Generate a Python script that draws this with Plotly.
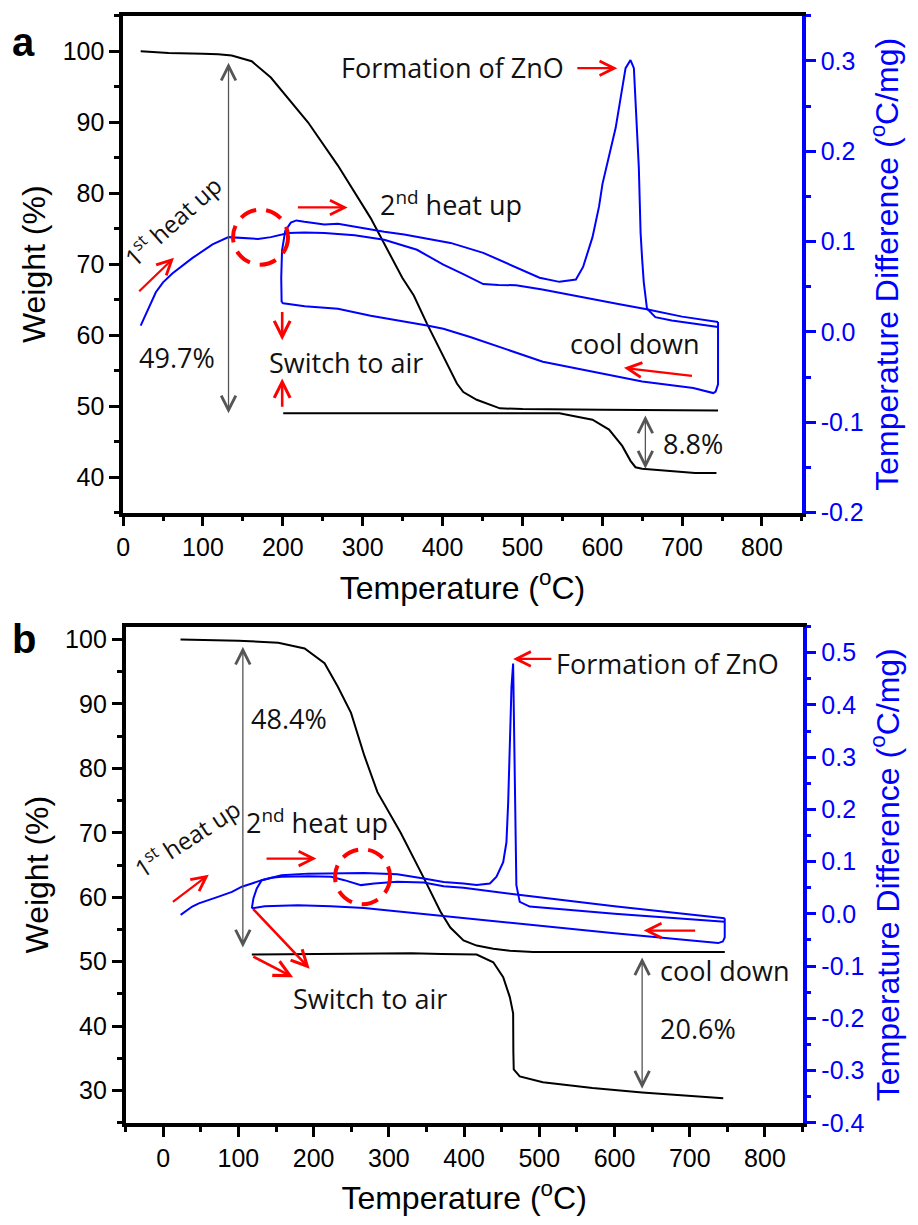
import plotly.graph_objects as go

# ---------------- Panel a : TGA (weight) ----------------
a_tga_n2_T = [22, 57, 100, 119, 136, 161, 185, 207, 231.5, 269, 310, 349.6, 364, 380.6,
              401, 418, 426, 442.8, 471.8, 500, 600, 700, 745]
a_tga_n2_W = [100, 99.75, 99.65, 99.6, 99.4, 98.6, 96.3, 93.3, 90.0, 83.9, 76.5, 68.1, 65.6, 61.6,
              57.0, 53.2, 52.0, 50.9, 49.7, 49.6, 49.5, 49.4, 49.4]

a_tga_air_T = [200.5, 300, 400, 500, 546.4, 567, 587.8, 608.5, 625, 635.4, 641.6, 649.9,
               670.6, 691.3, 716.2, 743]
a_tga_air_W = [49.0, 49.0, 49.0, 49.0, 49.0, 48.55, 48.1, 46.7, 44.4, 42.3, 41.4, 41.2,
               41.0, 40.9, 40.6, 40.6]

# ---------------- Panel a : DTA (temperature difference) ----------------
a_dta_n2_T = [22, 30, 41, 50, 62, 87, 112, 132, 150, 169, 185, 207, 227, 252, 290, 327, 368,
              401, 426, 435, 451, 470, 492, 525, 575, 620, 654, 700, 745]
a_dta_n2_D = [0.007, 0.022, 0.044, 0.055, 0.065, 0.082, 0.097, 0.105, 0.104, 0.103, 0.105,
              0.1095, 0.110, 0.1095, 0.107, 0.102, 0.091, 0.0745, 0.064, 0.060, 0.053, 0.052,
              0.0518, 0.047, 0.039, 0.031, 0.0255, 0.017, 0.011]

a_dta_cool_T = [745, 745, 742, 739, 714, 650, 525.6, 434.6, 401, 380.6, 310, 269, 227.4, 200.5, 198.5]
a_dta_cool_D = [0.011, -0.058, -0.066, -0.0676, -0.062, -0.0548, -0.0329, -0.0055, 0.0036,
                0.0072, 0.018, 0.0256, 0.0285, 0.0318, 0.033]

a_dta_air_T = [198.5, 198, 199, 203, 210, 217, 227, 252, 269, 310, 327, 352, 401, 410, 451,
               492.5, 521.5, 546.4, 558.7, 567, 576, 587.8, 596, 600.3, 616.8, 629.2, 635.4,
               639.6, 645.8, 648, 650, 652, 656, 666.5, 687, 745]
a_dta_air_D = [0.033, 0.060, 0.090, 0.112, 0.121, 0.1235, 0.122, 0.119, 0.1197, 0.113, 0.1109,
               0.108, 0.1003, 0.0986, 0.0876, 0.0712, 0.060, 0.0555, 0.0566, 0.058, 0.072, 0.105,
               0.139, 0.164, 0.226, 0.292, 0.301, 0.292, 0.182, 0.11, 0.08, 0.055, 0.026, 0.0164,
               0.0127, 0.0055]

# ---------------- Panel b : TGA ----------------
b_tga_n2_T = [23, 60, 100, 153, 188, 214.5, 232, 249.7, 267.3, 284.8, 306.9, 315.7, 346.4,
              368.5, 381.7, 399.2, 416.7, 438.8, 460.8, 491.5, 600, 746.6]
b_tga_n2_W = [100, 99.95, 99.8, 99.5, 98.6, 96.3, 92.7, 88.6, 82.0, 76.3, 71.7, 70.0, 63.0,
              57.8, 55.3, 53.3, 52.5, 52.0, 51.7, 51.5, 51.5, 51.5]

b_tga_air_T = [117.8, 200, 280, 330, 370, 416.7, 438.8, 452, 460.8, 465.2, 465.5, 466, 474,
               504.7, 570.7, 636.7, 744.5]
b_tga_air_W = [51.1, 51.2, 51.3, 51.3, 51.2, 51.1, 49.9, 47.6, 44.5, 42.0, 36.0, 33.3, 32.2,
               31.3, 30.4, 29.7, 28.8]

# ---------------- Panel b : DTA ----------------
b_dta_n2_T = [23.2, 38.6, 47.4, 65, 73.7, 91.4, 104.6, 117.8, 131, 144, 157.4, 192.5, 223.3,
              240.9, 262.9, 280.5, 311.2, 346.4, 372.8, 399.2, 469.5, 600, 746.5]
b_dta_n2_D = [-0.002, 0.014, 0.020, 0.0296, 0.033, 0.042, 0.052, 0.058, 0.0645, 0.069, 0.0708,
              0.072, 0.0708, 0.0645, 0.055, 0.058, 0.0613, 0.060, 0.053, 0.050, 0.037, 0.0145,
              -0.0083]

b_dta_cool_T = [746.5, 746.5, 744, 737.8, 600, 460, 399.2, 355, 311, 267, 223, 179, 135, 117.8]
b_dta_cool_D = [-0.0083, -0.045, -0.053, -0.056, -0.037, -0.017, -0.0083, -0.0007, 0.0057,
                0.011, 0.0145, 0.0165, 0.0145, 0.0106]

b_dta_air_T = [117.8, 120, 124.4, 131, 157.4, 192.5, 267.3, 311.2, 346.4, 372.8, 399.2, 416.7,
               434.3, 443.1, 452, 456.3, 458.6, 460.8, 463, 465.2, 466, 467.4, 469.5, 474,
               487.2, 600, 746.5]
b_dta_air_D = [0.0106, 0.030, 0.0486, 0.0645, 0.074, 0.077, 0.0784, 0.076, 0.0676, 0.061,
               0.058, 0.055, 0.058, 0.071, 0.099, 0.137, 0.213, 0.308, 0.434, 0.479, 0.403,
               0.213, 0.055, 0.023, 0.0139, 0.0, -0.015]

# ---------------- Tick labels ----------------
a_x_ticks = [0, 100, 200, 300, 400, 500, 600, 700, 800]
b_x_ticks = [0, 100, 200, 300, 400, 500, 600, 700, 800]
a_w_ticks = [40, 50, 60, 70, 80, 90, 100]
b_w_ticks = [30, 40, 50, 60, 70, 80, 90, 100]
a_d_ticks = [-0.2, -0.1, 0.0, 0.1, 0.2, 0.3]
a_d_labels = ["-0.2", "-0.1", "0.0", "0.1", "0.2", "0.3"]
b_d_ticks = [-0.4, -0.3, -0.2, -0.1, 0.0, 0.1, 0.2, 0.3, 0.4, 0.5]
b_d_labels = ["-0.4", "-0.3", "-0.2", "-0.1", "0.0", "0.1", "0.2", "0.3", "0.4", "0.5"]

BLUE = "#0000FF"
RED = "#FF0000"
GRAY = "#555555"
AX_FONT = "Liberation Sans, Arial, sans-serif"
TXT_FONT = "Open Sans, sans-serif"
TICK_SIZE = 25
TITLE_SIZE = 32
TXT_SIZE = 27

fig = go.Figure()


def line(x, y, xa, ya, color, width=2):
    fig.add_trace(go.Scatter(x=x, y=y, xaxis=xa, yaxis=ya, mode="lines",
                             line=dict(color=color, width=width), showlegend=False,
                             hoverinfo="skip"))


# panel a traces
line(a_tga_n2_T, a_tga_n2_W, "x", "y", "black")
line(a_tga_air_T, a_tga_air_W, "x", "y", "black")
line(a_dta_n2_T, a_dta_n2_D, "x", "y2", BLUE)
line(a_dta_cool_T, a_dta_cool_D, "x", "y2", BLUE)
line(a_dta_air_T, a_dta_air_D, "x", "y2", BLUE)
# panel b traces
line(b_tga_n2_T, b_tga_n2_W, "x2", "y3", "black")
line(b_tga_air_T, b_tga_air_W, "x2", "y3", "black")
line(b_dta_n2_T, b_dta_n2_D, "x2", "y4", BLUE)
line(b_dta_cool_T, b_dta_cool_D, "x2", "y4", BLUE)
line(b_dta_air_T, b_dta_air_D, "x2", "y4", BLUE)

W_PX, H_PX = 918, 1225


def xaxis(dom, rng, anchor, ticks):
    return dict(domain=dom, range=rng, anchor=anchor, tickvals=ticks,
                ticks="outside", ticklen=10, tickwidth=2.5, tickcolor="black",
                minor=dict(dtick=50, tick0=0, ticks="outside", ticklen=5, tickwidth=2.5,
                           tickcolor="black"),
                showline=True, linewidth=3.5, linecolor="black", mirror=True,
                showgrid=False, zeroline=False,
                tickfont=dict(family=AX_FONT, size=TICK_SIZE, color="black"),
                title=dict(text="Temperature (<sup>o</sup>C)",
                           font=dict(family=AX_FONT, size=TITLE_SIZE, color="black"),
                           standoff=17))


def waxis(dom, rng, anchor, ticks):
    return dict(domain=dom, range=rng, anchor=anchor, tickvals=ticks,
                ticks="outside", ticklen=10, tickwidth=2.5, tickcolor="black",
                minor=dict(dtick=5, tick0=0, ticks="outside", ticklen=5, tickwidth=2.5,
                           tickcolor="black"),
                showline=True, linewidth=3.5, linecolor="black", mirror=False,
                showgrid=False, zeroline=False,
                tickfont=dict(family=AX_FONT, size=TICK_SIZE, color="black"),
                title=dict(text="Weight (%)",
                           font=dict(family=AX_FONT, size=TITLE_SIZE, color="black"),
                           standoff=8))


def daxis(rng, over, anchor, ticks, labels):
    return dict(range=rng, overlaying=over, anchor=anchor, side="right",
                tickvals=ticks, ticktext=labels,
                ticks="outside", ticklen=10, tickwidth=2.5, tickcolor=BLUE,
                minor=dict(dtick=0.05, tick0=0, ticks="outside", ticklen=5, tickwidth=2.5,
                           tickcolor=BLUE),
                showline=True, linewidth=3.5, linecolor=BLUE,
                showgrid=False, zeroline=False,
                tickfont=dict(family=AX_FONT, size=TICK_SIZE, color=BLUE),
                title=dict(text="Temperature Difference (<sup>o</sup>C/mg)",
                           font=dict(family=AX_FONT, size=TITLE_SIZE, color=BLUE),
                           standoff=14))


a_xdom = [117 / W_PX, 801 / W_PX]
a_ydom = [1 - 518 / H_PX, 1 - 15 / H_PX]
b_xdom = [119.5 / W_PX, 801.7 / W_PX]
b_ydom = [1 - 1135.7 / H_PX, 1 - 633.3 / H_PX]

fig.update_layout(
    width=W_PX, height=H_PX, margin=dict(l=0, r=0, t=0, b=0),
    paper_bgcolor="white", plot_bgcolor="white", showlegend=False,
    xaxis=xaxis(a_xdom, [0, 850], "y", a_x_ticks),
    yaxis=waxis(a_ydom, [35, 105], "x", a_w_ticks),
    yaxis2=daxis([-0.2, 0.35], "y", "x", a_d_ticks, a_d_labels),
    xaxis2=xaxis(b_xdom, [-50, 850], "y3", b_x_ticks),
    yaxis3=waxis(b_ydom, [25, 102], "x2", b_w_ticks),
    yaxis4=daxis([-0.4, 0.55], "y3", "x2", b_d_ticks, b_d_labels),
)

ann = []


def arrow(xr, yr, x0, y0, x1, y1, color=RED, width=2.2, size=1.3, both=False):
    ann.append(dict(x=x1, y=y1, ax=x0, ay=y0, xref=xr, yref=yr, axref=xr, ayref=yr,
                    text="", showarrow=True, arrowhead=5, arrowsize=size, arrowwidth=width,
                    arrowcolor=color, arrowside="end+start" if both else "end"))


def label(xr, yr, x, y, text, size=TXT_SIZE, anchor="left", angle=0):
    ann.append(dict(x=x, y=y, xref=xr, yref=yr, text=text, showarrow=False, xanchor=anchor,
                    yanchor="middle", textangle=angle,
                    font=dict(family=TXT_FONT, size=size, color="#111111")))


# ---- panel a annotations ----
arrow("x", "y", 132, 98.6, 132, 49.0, color=GRAY, width=1.3, size=2.2, both=True)
arrow("x", "y", 654, 48.9, 654, 41.2, color=GRAY, width=1.3, size=2.2, both=True)
arrow("x", "y2", 566.9, 0.292, 618.8, 0.292)
label("x", "y2", 412, 0.293, "Formation of ZnO", anchor="center")
arrow("x", "y", 217, 78.0, 281.2, 78.0)
label("x", "y", 319, 78.6, "2<sup>nd</sup> heat up")
label("x", "y", 61, 76.2, "1<sup>st</sup> heat up", size=24, anchor="center", angle=-42)
arrow("x", "y", 18.3, 66.0, 63.7, 70.9)
label("x", "y", 17.5, 56.9, "49.7%")
label("x", "y", 180.5, 56.1, "Switch to air")
arrow("x", "y", 199.2, 63.5, 199.2, 59.3, width=2.6, size=1.2)
arrow("x", "y", 199.2, 49.7, 199.2, 53.9, width=2.6, size=1.2)
label("x", "y", 557, 58.8, "cool down")
arrow("x", "y", 714.2, 54.25, 627.2, 55.4)
label("x", "y", 674, 44.8, "8.8%")

# ---- panel b annotations ----
arrow("x2", "y3", 105.9, 99.1, 105.9, 52.2, color=GRAY, width=1.3, size=2.2, both=True)
arrow("x2", "y3", 636.7, 50.9, 636.7, 30.3, color=GRAY, width=1.3, size=2.2, both=True)
arrow("x2", "y4", 518, 0.488, 465.2, 0.488)
label("x2", "y4", 519, 0.479, "Formation of ZnO")
label("x2", "y3", 108, 71.7, "2<sup>nd</sup> heat up")
arrow("x2", "y3", 135.4, 66.0, 203.6, 66.0)
label("x2", "y3", 31, 69.2, "1<sup>st</sup> heat up", size=24, anchor="center", angle=-33)
arrow("x2", "y3", 10.9, 59.1, 60.6, 63.5)
arrow("x2", "y3", 117.8, 58.4, 194.7, 48.9, width=2.6, size=1.2)
arrow("x2", "y3", 117.8, 50.9, 172.7, 47.6, width=2.6, size=1.2)
label("x2", "y3", 170, 44.3, "Switch to air")
label("x2", "y3", 114.5, 87.8, "48.4%")
label("x2", "y3", 657.5, 48.6, "cool down")
arrow("x2", "y4", 709.2, -0.032, 638.9, -0.032)
label("x2", "y3", 657.5, 39.6, "20.6%")

# panel letters
ann.append(dict(x=3 / W_PX, y=1 - 42 / H_PX, xref="paper", yref="paper", text="<b>a</b>",
                showarrow=False, xanchor="left", yanchor="middle",
                font=dict(family=AX_FONT, size=40, color="black")))
ann.append(dict(x=3 / W_PX, y=1 - 646 / H_PX, xref="paper", yref="paper", text="<b>b</b>",
                showarrow=False, xanchor="left", yanchor="middle",
                font=dict(family=AX_FONT, size=40, color="black")))

fig.update_layout(annotations=ann)

# dashed circles marking the small dip in the first heating trace
for xr, yr, cx, cy in [("x", "y2", 172.1, 0.105), ("x2", "y4", 265, 0.0709)]:
    fig.add_shape(type="circle", xref=xr, yref=yr, xsizemode="pixel", ysizemode="pixel",
                  xanchor=cx, yanchor=cy, x0=-27.5, x1=27.5, y0=-27.5, y1=27.5,
                  line=dict(color=RED, width=4, dash="17px,10px"))

fig.write_html("out.html")
